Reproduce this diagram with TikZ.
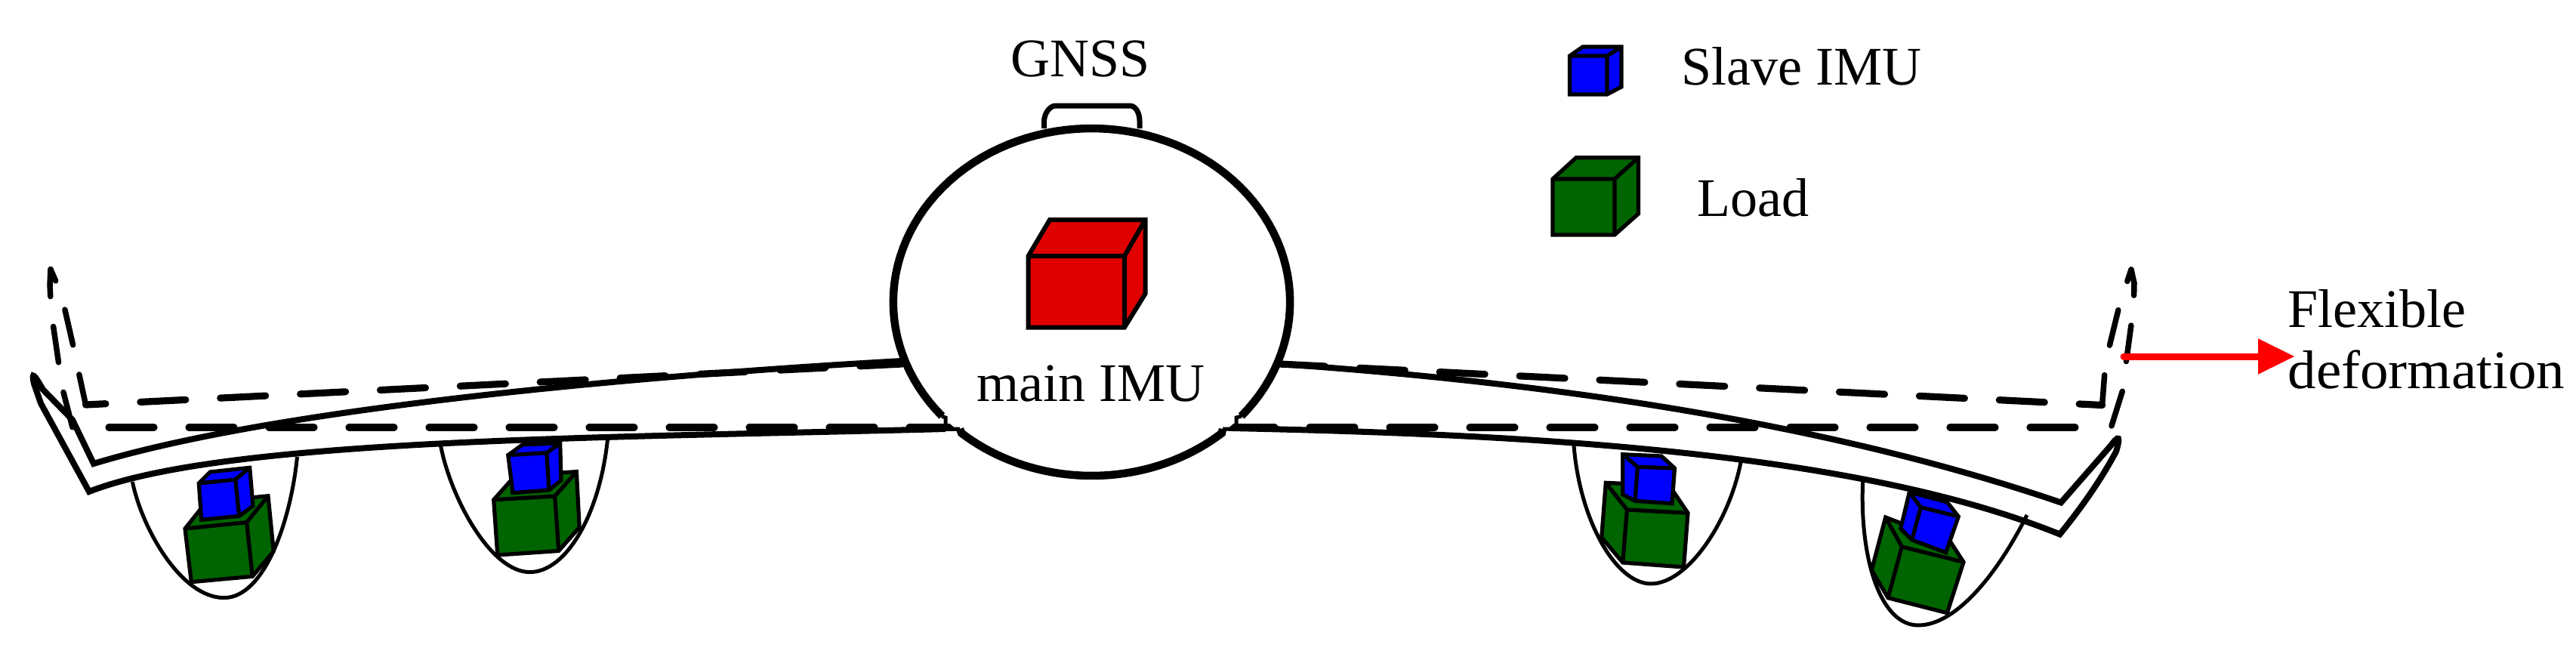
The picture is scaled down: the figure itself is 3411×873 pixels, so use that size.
\documentclass[tikz,border=0pt]{standalone}
\usepackage{fontspec}
\setmainfont{Liberation Serif}
\usetikzlibrary{arrows.meta}

\definecolor{imured}{HTML}{E00000}
\definecolor{imublue}{HTML}{0000FF}
\definecolor{loadgreen}{HTML}{006400}

\tikzset{
  label/.style={inner sep=0pt,anchor=base west,font=\fontsize{20.5}{24}\selectfont},
  cubeline/.style={line width=0.52mm,line join=miter,draw=black},
  pod/.style={line width=0.5mm},
  wing/.style={line width=0.8mm,line join=miter},
  hdash/.style={line width=0.92mm,line cap=round,dash pattern=on 6mm off 4.6mm},
  vdash/.style={line width=0.75mm,line cap=round,dash pattern=on 4.8mm off 4mm},
  body/.style={line width=1.05mm},
}

% a = inner corner, then the six outline corners
\newcommand{\drawcube}[8]{%
  \filldraw[cubeline,#1] (#3)--(#4)--(#5)--(#6)--(#7)--(#8)--cycle;
  \draw[cubeline,#1,fill=none] (#3)--(#2)--(#7) (#5)--(#2);
}

\begin{document}
% one unit = one pixel of the reference, y pointing down
\begin{tikzpicture}[x=0.1mm,y=-0.1mm]
  \useasboundingbox (0,0) rectangle (3411,873);

  % pods under the wings
  \draw[pod] (175.4,638) .. controls (188,700) and (240,791.6) .. (296.6,791.6) .. controls (350,791.6) and (385,690) .. (393.5,605);
  \draw[pod] (583.5,590) .. controls (597,660) and (650,757.6) .. (701.5,757.6) .. controls (750,757.6) and (795,680) .. (804.8,579);
  \draw[pod] (2084,590) .. controls (2092,690) and (2140,773) .. (2186,773) .. controls (2235,773) and (2290,690) .. (2305,612);
  \draw[pod] (2466.7,636) .. controls (2462,740) and (2490,828) .. (2540,828) .. controls (2590,828) and (2645,760) .. (2684,682);

  % loads and slave IMUs
  \drawcube{fill=loadgreen}{326.7,691.7}{245,700}{273,665}{355,656.7}{362.3,730}{334.3,763.3}{253.3,770.7}
  \drawcube{fill=imublue}{311.7,635}{263.3,640}{278.3,625}{330.7,619.3}{335,670}{316.7,683.3}{266.7,688.3}
  \drawcube{fill=loadgreen}{734.7,657}{653.7,661.8}{682,630}{763.4,624.6}{767.2,698.4}{739.8,729.5}{658.8,735}
  \drawcube{fill=imublue}{723.9,599.7}{672.8,602.6}{692,588.7}{741.7,587}{743,636}{727,649}{679,652.7}
  \drawcube{fill=loadgreen}{2154.4,675}{2235,679.3}{2210.5,643}{2126.3,639.3}{2120.7,711.7}{2148.8,745}{2229.5,751}
  \drawcube{fill=imublue}{2168.4,618.3}{2217.5,620}{2200,604}{2148.8,601.7}{2148.8,655}{2165,663.3}{2214,666.7}
  \drawcube{fill=loadgreen}{2518.3,724}{2600,744.3}{2583,718}{2496.7,685}{2478.3,755}{2500,791.7}{2578.3,811.7}
  \drawcube{fill=imublue}{2543.3,671.7}{2593.3,684}{2578.3,665}{2528.3,651.7}{2516.7,700}{2531.7,715}{2576.7,731.7}

  % solid wings
  \draw[wing] (1194,478) .. controls (800,500) and (350,545) .. (124,614)
    -- (96,556) -- (57,516) .. controls (46,497) and (41,490) .. (45,508) -- (54,534) -- (118,651)
    .. controls (300,580) and (800,580) .. (1252,568);
  \draw[wing] (1695,482) .. controls (2100,510) and (2450,570) .. (2729,665.5)
    -- (2795,590) .. controls (2806,575) and (2808,578) .. (2802,598) .. controls (2790,620) and (2770,655) .. (2727.5,707.5)
    .. controls (2450,595) and (2000,575) .. (1631.6,567);

  % deformed wings, dashed
  \draw[hdash] (144,566) -- (2751,566);
  \draw[hdash,dash phase=3.35mm] (113.5,536) -- (1194,482);
  \draw[hdash] (1694.5,482) -- (2783.6,536.5);
  \draw[vdash,dash phase=0.7mm] (113.5,536) -- (104,492) -- (97.6,461) -- (85,406) -- (75,375) -- (67,356.6);
  \draw[vdash,dash phase=1.2mm] (67,356.6) -- (66,377) -- (67,397) -- (70,428) -- (78,483) -- (83,515.6) -- (96,566);
  \draw[vdash,dash phase=0.8mm] (2783.6,536.5) -- (2787,492) -- (2793,459) -- (2806,406) -- (2816,375) -- (2822,357);
  \draw[vdash] (2796,564) -- (2811,516) -- (2814.6,484.6) -- (2822.3,428) -- (2825.5,396) -- (2826,375) -- (2822,357);

  % fuselage
  \fill[white] (1445.5,400) ellipse [x radius=262.7,y radius=230];
  \draw[body] plot[domain=139:401,samples=90] ({1445.5+262.7*cos(\x)},{400+230*sin(\x)});
  \draw[body] (1271,568) -- plot[domain=131:49,samples=40] ({1445.5+262.7*cos(\x)},{400+230*sin(\x)}) -- (1619,568);
  \draw[line width=0.5mm] (1247,551) -- (1252,553) -- (1252,568) -- (1271,568);
  \draw[line width=0.5mm] (1644,551) -- (1637,553) -- (1637,568) -- (1619,568);
  \draw[line width=0.7mm,line join=round] (1382.5,170) -- (1382.5,160) .. controls (1383,150) and (1390,140) .. (1398,140) -- (1496,140) .. controls (1504,140) and (1509,150) .. (1509,160) -- (1509,170);

  % main IMU and legend
  \drawcube{fill=imured,line width=0.6mm}{1489,339}{1361.6,339}{1390,291}{1516.5,291}{1516.5,389}{1489,433.5}{1361.6,433.5}
  \drawcube{fill=imublue}{2128,74}{2078.5,74}{2095.7,62}{2147,62}{2147,115}{2128,125}{2078.5,125}
  \drawcube{fill=loadgreen}{2138,237}{2056,237}{2087,208.7}{2169.5,208.7}{2169.5,283}{2138,311}{2056,311}

  % labels
  \node[label] (gnss) at (1338,101) {GNSS};
  \node[label] (main) at (1293,531) {main IMU};
  \node[label] (slave) at (2226,112) {Slave IMU};
  \node[label] (load) at (2247,286) {Load};
  \node[label] (flex1) at (3029,433) {Flexible};
  \node[label,transform shape,xscale=1.04] (flex2) at (3029,514) {deformation};

  % deformation arrow
  \coordinate (fa) at (2812,472);
  \coordinate (fb) at (3038,472);
  \draw[red,line width=0.9mm,line cap=round,-{Triangle[length=4.8mm,width=4.75mm,line width=0pt]}] (fa) -- (fb);
\end{tikzpicture}
\end{document}
